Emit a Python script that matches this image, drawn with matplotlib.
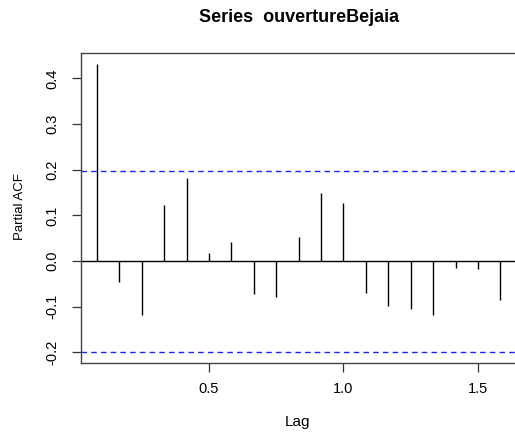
import numpy as np
import matplotlib
matplotlib.use("Agg")
import matplotlib.pyplot as plt

plt.rcParams["font.family"] = ["Liberation Sans", "DejaVu Sans"]

# partial autocorrelations, monthly series (frequency 12)
lag_index = np.arange(1, 20)
lags = lag_index / 12
pacf = [0.431, -0.045, -0.117, 0.123, 0.182, 0.017, 0.042, -0.072, -0.078,
        0.052, 0.149, 0.127, -0.069, -0.098, -0.104, -0.118, -0.015, -0.017,
        -0.085]
ci = 0.198
yticks = [-0.2, -0.1, 0.0, 0.1, 0.2, 0.3, 0.4]
xticks = [0.5, 1.0, 1.5]

fig = plt.figure(figsize=(5.15, 4.34), dpi=100)
ax = fig.add_axes([0.1567, 0.1636, 0.8463, 0.715])

ax.vlines(lags, 0, pacf, color="black", lw=1.0)
ax.axhline(0, color="black", lw=1.0)
ax.axhline(ci, color="#2020ff", lw=1.0, ls=(0, (4, 3)))
ax.axhline(-ci, color="#2020ff", lw=1.0, ls=(0, (4, 3)))

# R-style 4% padding on both axes
xr = lags.max() - lags.min()
ax.set_xlim(lags.min() - 0.04 * xr, lags.max() + 0.04 * xr)
lo, hi = min(min(pacf), -ci), max(max(pacf), ci)
ax.set_ylim(lo - 0.04 * (hi - lo), hi + 0.04 * (hi - lo))

ax.set_xticks(xticks)
ax.set_xticklabels(["0.5", "1.0", "1.5"], fontsize=10.5)
ax.set_yticks(yticks)
ax.set_yticklabels(["-0.2", "-0.1", "0.0", "0.1", "0.2", "0.3", "0.4"],
                   fontsize=10.5, rotation=90, va="center")
ax.tick_params(axis="both", length=6.5, width=0.9, color="#333333")
ax.tick_params(axis="x", pad=7)
ax.tick_params(axis="y", pad=9)
for s in ax.spines.values():
    s.set_color("#444444")
    s.set_linewidth(1.0)

fig.text(298 / 515, 1 - 422 / 434, "Lag", fontsize=11, ha="center", va="center")
fig.text(20 / 515, 1 - 207 / 434, "Partial ACF", fontsize=9.5, rotation=90,
         ha="center", va="center")
fig.text(299 / 515, 1 - 17 / 434, "Series  ouvertureBejaia", fontsize=13,
         fontweight="bold", ha="center", va="center")

fig.savefig("out.png", dpi=100)
